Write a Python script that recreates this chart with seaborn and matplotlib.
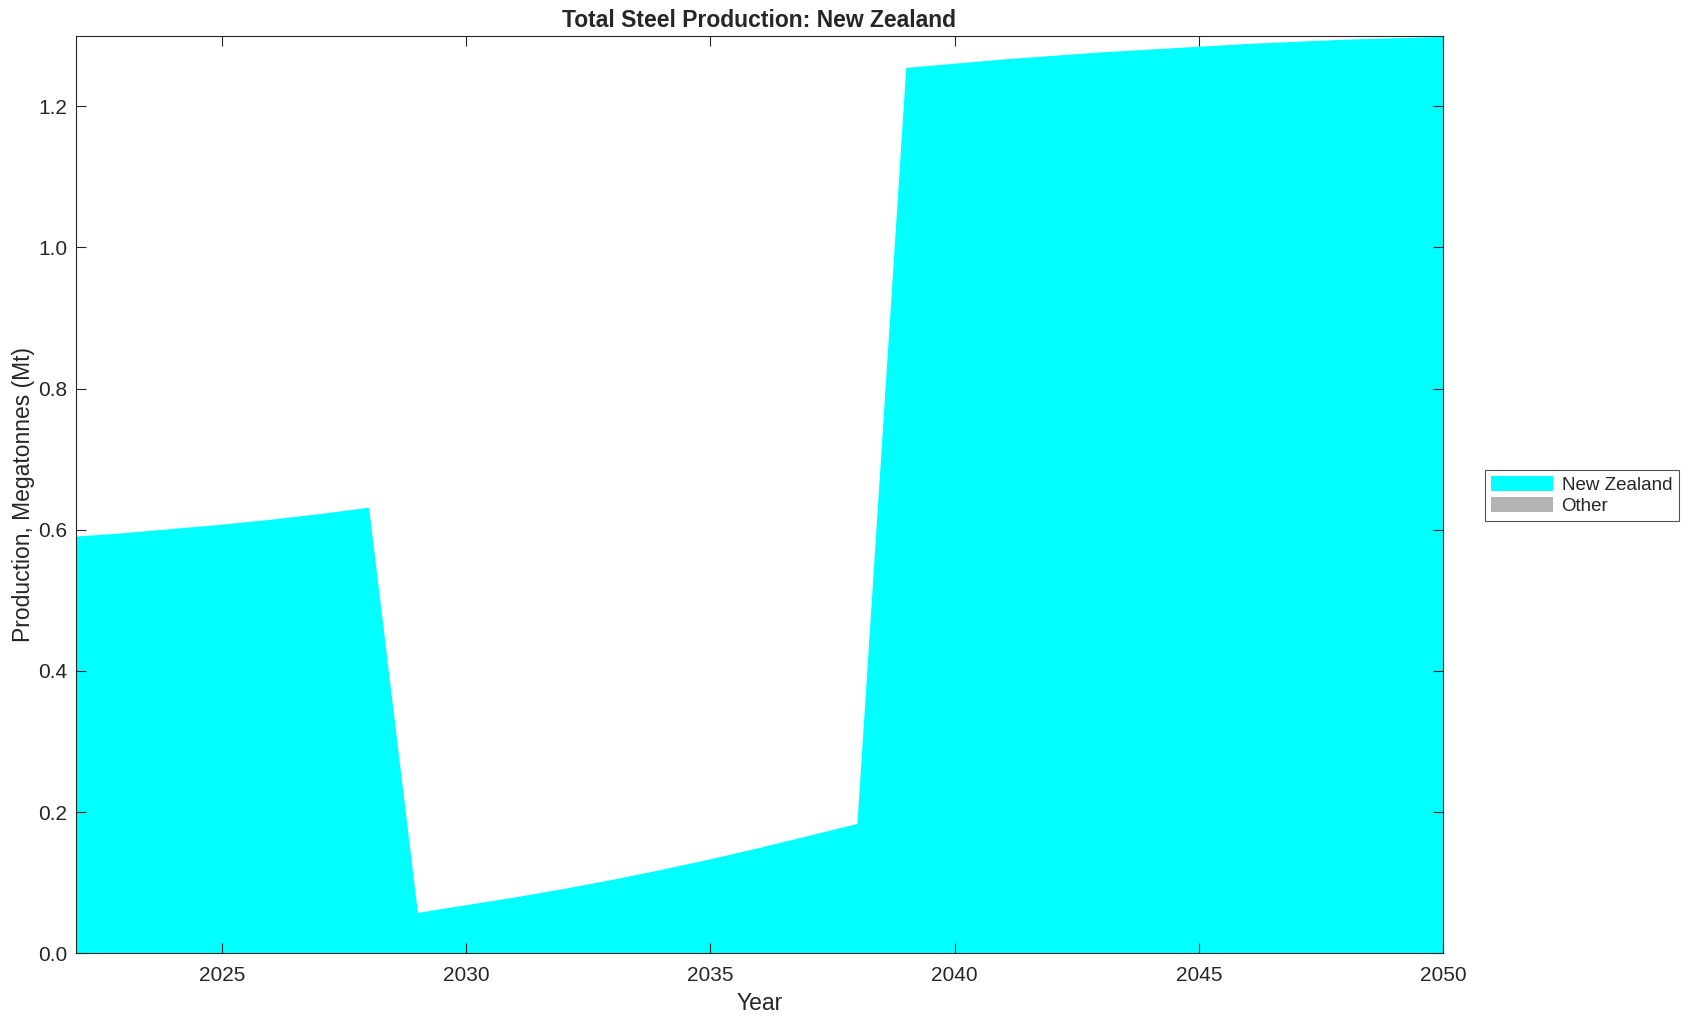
import numpy as np
import pandas as pd
import matplotlib
matplotlib.use("Agg")
import matplotlib.pyplot as plt
import seaborn as sns

# Data (Mt)
years = list(range(2022, 2051))
new_zealand = [0.591, 0.596, 0.602, 0.608, 0.615, 0.623, 0.632,
               0.058, 0.069, 0.080, 0.092, 0.105, 0.119, 0.134, 0.150, 0.167, 0.184,
               1.255, 1.261, 1.267, 1.272, 1.277, 1.281, 1.285, 1.289, 1.292, 1.295, 1.297, 1.299]
other = [0.0] * len(years)

df = pd.DataFrame({"Year": years, "New Zealand": new_zealand, "Other": other})

sns.set_theme(style="ticks")
plt.rcParams['font.family'] = ['Liberation Sans', 'DejaVu Sans']

fig = plt.figure(figsize=(16.91, 10.21), dpi=100)
ax = fig.add_axes([0.0447, 0.0663, 0.8086, 0.8988])

ax.stackplot(df["Year"], df["New Zealand"], df["Other"],
             colors=["#00ffff", "#b3b3b3"], labels=["New Zealand", "Other"],
             linewidth=0)
ax.set_axisbelow(False)

ax.set_xlim(2022, 2050)
ax.set_ylim(0, 1.3)
ax.set_xticks([2025, 2030, 2035, 2040, 2045, 2050])
ax.set_yticks([0.0, 0.2, 0.4, 0.6, 0.8, 1.0, 1.2])
ax.set_yticklabels([f"{v:.1f}" for v in [0.0, 0.2, 0.4, 0.6, 0.8, 1.0, 1.2]])
ax.tick_params(direction="in", top=True, right=True, length=7, width=0.8,
               labelsize=15, colors="#262626")
ax.tick_params(axis="x", pad=9)
ax.tick_params(axis="y", pad=6)
for s in ax.spines.values():
    s.set_linewidth(0.8)
    s.set_color("#262626")
    s.set_zorder(3)

ax.set_xlabel("Year", fontsize=16.5, color="#262626", labelpad=5)
ax.set_ylabel("Production, Megatonnes (Mt)", fontsize=16.5, color="#262626", labelpad=2)
ax.set_title("Total Steel Production: New Zealand", fontsize=16.5, fontweight="bold", pad=6)

leg = ax.legend(loc="center left", bbox_to_anchor=(0.878, 0.5147),
                bbox_transform=fig.transFigure, fontsize=13.5, frameon=True,
                fancybox=False, edgecolor="#262626", handlelength=3.3,
                handleheight=0.85, borderpad=0.35, labelspacing=0.15,
                handletextpad=0.45, borderaxespad=0)
leg.get_frame().set_linewidth(0.8)

fig.savefig("out.png", dpi=100)
